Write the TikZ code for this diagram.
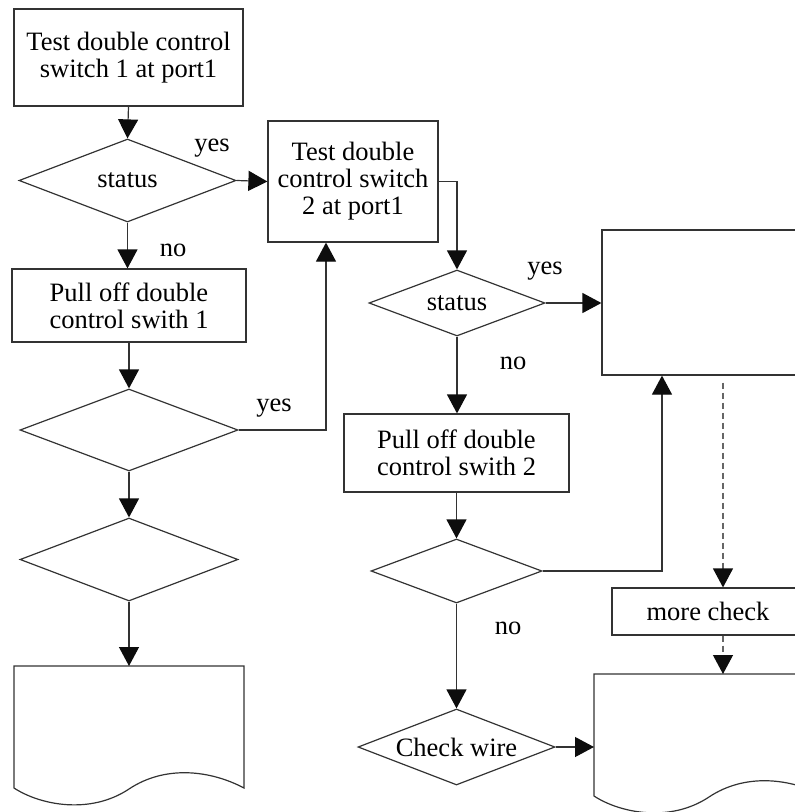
\documentclass[tikz,border=0pt]{standalone}
\usepackage{fontspec}
\setmainfont{Liberation Serif}
\usetikzlibrary{arrows.meta,shapes.geometric}
\begin{document}
\begin{tikzpicture}[x=1pt,y=-1pt,
  line width=1.2pt,
  every node/.style={font=\fontsize{26.5}{27}\selectfont, text=black},
  box/.style={draw=black!80, rectangle, inner sep=0pt, align=center},
  dia/.style={draw=black!80, diamond, inner sep=0pt},
  conn/.style={draw=black!80, -{Triangle[length=19pt,width=20pt,color=black!95]}},
  dconn/.style={conn, dash pattern=on 6pt off 4pt, draw=black!60},
  docline/.style={draw=black!80},
  lbl/.style={inner sep=0pt}]
\useasboundingbox (0,0) rectangle (795,812);

% left column
\node[box, minimum width=229, minimum height=97] (b1) at (128.5,57.5) {Test double control\\switch 1 at port1};
\node[dia, minimum width=217, minimum height=83, label=center:status] (d1) at (127.5,180.5) {};
\node[box, minimum width=234, minimum height=73] (b5) at (129,305.5) {Pull off double\\control swith 1};
\node[dia, minimum width=218, minimum height=82] (d3) at (129,430) {};
\node[dia, minimum width=218, minimum height=83] (d4) at (129,559.5) {};
\draw[docline] (14,788) -- (14,666) -- (244,666) -- (244,788)
  .. controls (210,770) and (165,765) .. (129,789)
  .. controls (90,815) and (40,805) .. cycle;
\coordinate (doc1top) at (129,666);

% middle column
\node[box, minimum width=170, minimum height=121] (b2) at (353,181.5) {Test double\\control switch\\2 at port1};
\node[dia, minimum width=176, minimum height=66, label=center:status] (d2) at (457,303) {};
\node[box, minimum width=225, minimum height=78] (b4) at (456.5,453) {Pull off double\\control swith 2};
\node[dia, minimum width=171, minimum height=64] (d5) at (456.5,571) {};
\node[dia, minimum width=197, minimum height=76, label=center:Check wire] (cw) at (456.5,747) {};

% right column
\node[box, minimum width=228, minimum height=145] (b3) at (716,302.5) {};
\node[box, minimum width=192, minimum height=47] (mc) at (708,611.5) {more check};
\begin{scope}[shift={(580,8)}]
\draw[docline] (14,788) -- (14,666) -- (244,666) -- (244,788)
  .. controls (210,770) and (165,765) .. (129,789)
  .. controls (90,815) and (40,805) .. cycle;
\coordinate (doc2top) at (143,666);
\coordinate (doc2left) at (14,739);
\end{scope}

% labels
\node[lbl] (y1) at (212,148) {yes};
\node[lbl] (n1) at (173,250) {no};
\node[lbl] (y3) at (274,408) {yes};
\node[lbl] (y2) at (545,271) {yes};
\node[lbl] (n2) at (513,363) {no};
\node[lbl] (n5) at (508,628) {no};

% connectors
\draw[conn] (b1.south) -- (d1.north);
\draw[conn] (d1.east) -- (b2.west);
\draw[conn] (d1.south) -- (d1.south |- b5.north);
\draw[conn] (b5.south) -- (d3.north);
\draw[conn] (d3.east) -| ([xshift=-27pt]b2.south);
\draw[conn] (d3.south) -- (d4.north);
\draw[conn] (d4.south) -- (doc1top);
\draw[conn] (b2.east) -| (d2.north);
\draw[conn] (d2.east) -- (d2.east -| b3.west);
\draw[conn] (d2.south) -- (d2.south |- b4.north);
\draw[conn] (b4.south) -- (d5.north);
\draw[conn] (d5.east) -| ([xshift=-54pt]b3.south);
\draw[conn] (d5.south) -- (cw.north);
\draw[conn] (cw.east) -- (doc2left);
\draw[dconn, shorten <=7pt] ([xshift=7pt]b3.south) -- ([xshift=15pt]mc.north);
\draw[dconn] ([xshift=15pt]mc.south) -- (doc2top);
\end{tikzpicture}
\end{document}
